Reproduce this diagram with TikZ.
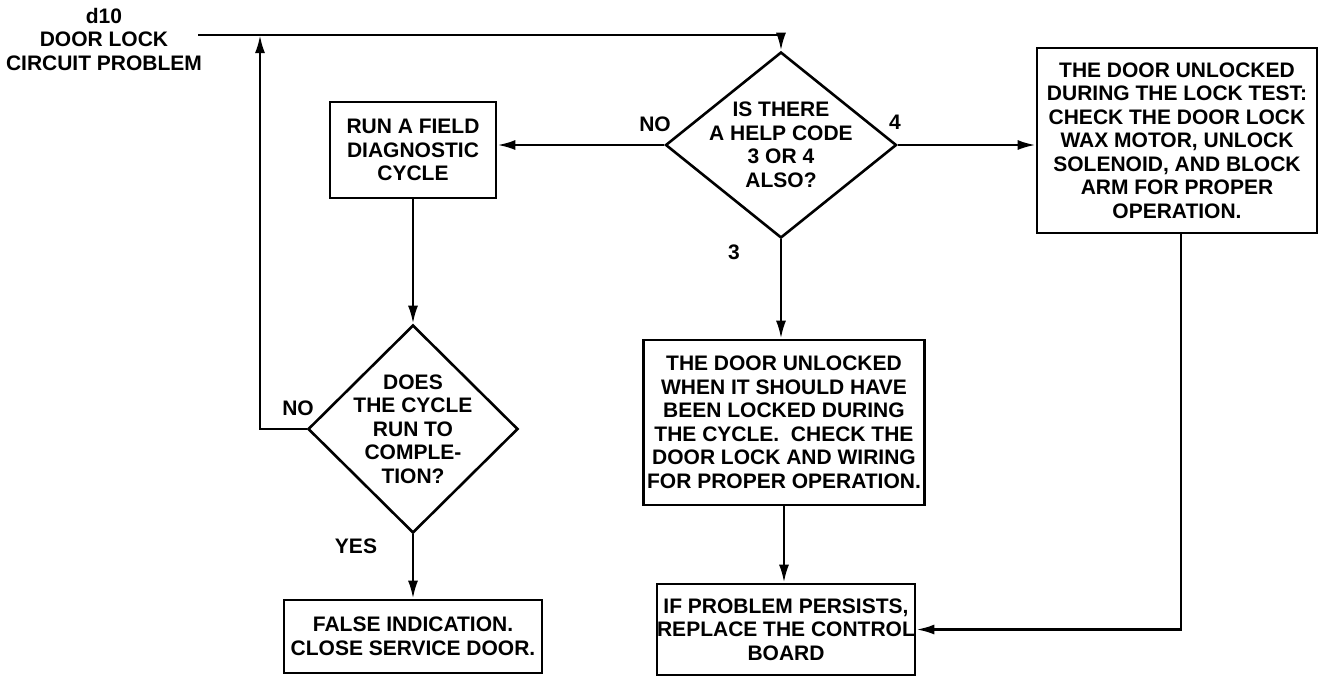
\documentclass[tikz,border=0pt]{standalone}
\usepackage{fontspec}
\setmainfont{Liberation Sans}
\usetikzlibrary{shapes.geometric,arrows.meta}
\begin{document}
\begin{tikzpicture}[x=0.5pt,y=-0.5pt,
  every node/.style={font=\fontsize{10.5pt}{11.75pt}\selectfont\bfseries, align=center, inner sep=0pt},
  box/.style={draw, line width=1.3pt},
  dia/.style={draw, shape=diamond, line width=1.3pt, inner sep=0pt},
  link/.style={line width=1.3pt, -{Latex[length=9pt,width=5pt]}}
]
\useasboundingbox (0,0) rectangle (1319,677);

\node (start) at (104,39) {d10\\DOOR LOCK\\CIRCUIT PROBLEM};

\node[dia, minimum width=115.5pt, minimum height=93pt] (d1) at (781,145) {};
\node (d1t) at (d1.center) {IS THERE\\A HELP CODE\\3 OR 4\\ALSO?};

\node[box, minimum width=83pt, minimum height=48pt] (run) at (413,150) {RUN A FIELD\\DIAGNOSTIC\\CYCLE};

\node[box, minimum width=140pt, minimum height=92.5pt] (lt) at (1177,140.5) {THE DOOR UNLOCKED\\DURING THE LOCK TEST:\\CHECK THE DOOR LOCK\\WAX MOTOR, UNLOCK\\SOLENOID, AND BLOCK\\ARM FOR PROPER\\OPERATION.};

\node[dia, minimum width=105pt, minimum height=104pt] (d2) at (413,429) {};
\node (d2t) at (d2.center) {DOES\\THE CYCLE\\RUN TO\\COMPLE-\\TION?};

\node[box, minimum width=129pt, minimum height=36.5pt] (false) at (413,636.5) {FALSE INDICATION.\\CLOSE SERVICE DOOR.};

\node[box, minimum width=140.5pt, minimum height=82.5pt] (mid) at (784,422.5) {THE DOOR UNLOCKED\\WHEN IT SHOULD HAVE\\BEEN LOCKED DURING\\THE CYCLE.\ \ CHECK THE\\DOOR LOCK AND WIRING\\FOR PROPER OPERATION.};

\node[box, minimum width=129pt, minimum height=45.5pt] (ifb) at (786,629.5) {IF PROBLEM PERSISTS,\\REPLACE THE CONTROL\\BOARD};

\node (no1) at (655,124) {NO};
\node (four) at (895,122) {4};
\node (three) at (734,252) {3};
\node (no2) at (298,408) {NO};
\node (yes) at (356,546) {YES};

\coordinate (t0) at (198,35);
\coordinate (fb) at (260,35);
\draw[link] (t0) -| (d1.north);
\draw[link] (d2.west) -| (fb);
\draw[link] (d1.west) -- (d1.west -| run.east);
\draw[link] (d1.east) -- (d1.east -| lt.west);
\draw[link] (d1.south) -- (d1.south |- mid.north);
\draw[link] (mid.south) -- (mid.south |- ifb.north);
\draw[link] (run.south) -- (d2.north);
\draw[link] (d2.south) -- (false.north);
\coordinate (rl) at ([xshift=2pt]lt.south);
\draw[link] (rl) |- (ifb.east);
\end{tikzpicture}
\end{document}
